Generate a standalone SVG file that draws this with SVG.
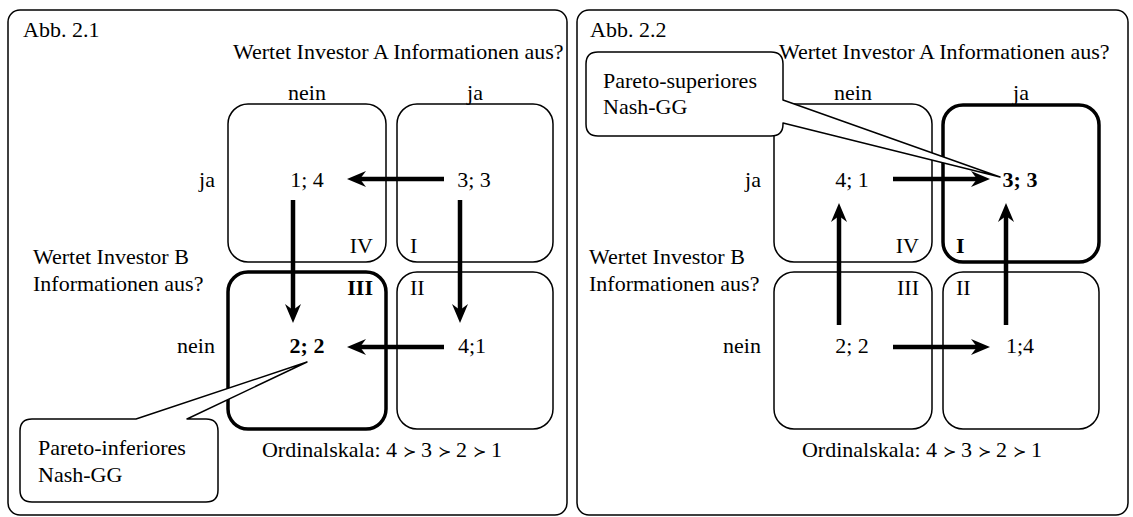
<svg xmlns="http://www.w3.org/2000/svg" width="1133" height="517" viewBox="0 0 1133 517" font-family="'Liberation Serif', 'DejaVu Serif', serif" font-size="22">
<defs>
<style>
text{font-family:'Liberation Serif','DejaVu Serif',serif;font-size:22px;fill:#000}
.m{text-anchor:middle}.e{text-anchor:end}.b{font-weight:bold}
.frame{fill:#fff;stroke:#000;stroke-width:1.5}
.box{fill:none;stroke:#000;stroke-width:1.5}
.thick{fill:none;stroke:#000;stroke-width:3.5}
.arr{stroke:#000;stroke-width:4.5;fill:none;marker-end:url(#ah)}
.call{fill:#fff;stroke:#000;stroke-width:1.5;stroke-linejoin:round}
.sym{font-family:'DejaVu Serif',serif;font-size:16px}
</style>
<marker id="ah" markerUnits="userSpaceOnUse" markerWidth="30" markerHeight="20" viewBox="-20 -10 30 20" refX="-12" refY="0" orient="auto">
<path d="M0,0 L-19,-8 L-13,0 L-19,8 Z" fill="#000"/>
</marker>
</defs>
<rect width="1133" height="517" fill="#fff"/>

<g id="panel1">
<rect class="frame" x="8" y="10" width="559" height="505" rx="12"/>
<text x="23" y="37">Abb. 2.1</text>
<text x="233" y="59">Wertet Investor A Informationen aus?</text>
<text class="m" x="307" y="100">nein</text>
<text class="m" x="475" y="100">ja</text>
<text class="e" x="215" y="187">ja</text>
<text class="e" x="215" y="353">nein</text>
<text x="33" y="264">Wertet Investor B</text>
<text x="33" y="291">Informationen aus?</text>
<text class="m" x="382" y="457">Ordinalskala: 4 <tspan class="sym">≻</tspan> 3 <tspan class="sym">≻</tspan> 2 <tspan class="sym">≻</tspan> 1</text>
</g>
<g id="p1-IV"><rect class="box" x="228" y="104" width="158" height="158" rx="20"/><text class="m" x="307" y="187">1; 4</text><text class="e" x="373" y="253">IV</text></g>
<g id="p1-I"><rect class="box" x="397" y="104" width="156" height="158" rx="20"/><text class="m" x="474" y="187">3; 3</text><text x="410" y="253">I</text></g>
<g id="p1-III"><rect class="thick" x="228" y="272" width="158" height="157" rx="20"/><text class="m b" x="307" y="353">2; 2</text><text class="e b" x="373" y="295">III</text></g>
<g id="p1-II"><rect class="box" x="397" y="272" width="156" height="157" rx="20"/><text class="m" x="472" y="353">4;1</text><text x="410" y="295">II</text></g>

<g id="panel2">
<rect class="frame" x="577" y="10" width="551" height="505" rx="12"/>
<text x="590" y="37">Abb. 2.2</text>
<text x="779" y="59">Wertet Investor A Informationen aus?</text>
<text class="m" x="853" y="100">nein</text>
<text class="m" x="1021" y="100">ja</text>
<text class="e" x="761" y="187">ja</text>
<text class="e" x="761" y="353">nein</text>
<text x="589" y="264">Wertet Investor B</text>
<text x="589" y="291">Informationen aus?</text>
<text class="m" x="922" y="457">Ordinalskala: 4 <tspan class="sym">≻</tspan> 3 <tspan class="sym">≻</tspan> 2 <tspan class="sym">≻</tspan> 1</text>
</g>
<g id="p2-IV"><rect class="box" x="774" y="104" width="158" height="158" rx="20"/><text class="m" x="852" y="187">4; 1</text><text class="e" x="919" y="253">IV</text></g>
<g id="p2-I"><rect class="thick" x="943" y="105" width="156" height="157" rx="20"/><text class="m b" x="1020" y="187">3; 3</text><text class="b" x="956" y="253">I</text></g>
<g id="p2-III"><rect class="box" x="774" y="272" width="158" height="157" rx="20"/><text class="m" x="852" y="353">2; 2</text><text class="e" x="919" y="295">III</text></g>
<g id="p2-II"><rect class="box" x="943" y="272" width="156" height="157" rx="20"/><text class="m" x="1020" y="353">1;4</text><text x="956" y="295">II</text></g>

<g id="connectors">
<line class="arr" x1="444" y1="179" x2="359" y2="179"/>
<line class="arr" x1="444" y1="347" x2="359" y2="347"/>
<line class="arr" x1="293" y1="200" x2="293" y2="311"/>
<line class="arr" x1="460" y1="200" x2="460" y2="311"/>
<line class="arr" x1="893" y1="179" x2="978" y2="179"/>
<line class="arr" x1="893" y1="347" x2="978" y2="347"/>
<line class="arr" x1="839" y1="325" x2="839" y2="215"/>
<line class="arr" x1="1006" y1="325" x2="1006" y2="215"/>
</g>

<g id="callout1">
<path class="call" d="M32,419 L136,419 L307,362 L187,419 L206,419 Q218,419 218,431 L218,490 Q218,502 206,502 L32,502 Q20,502 20,490 L20,431 Q20,419 32,419 Z"/>
<text x="38" y="455">Pareto-inferiores</text>
<text x="38" y="482">Nash-GG</text>
</g>
<g id="callout2">
<path class="call" d="M598,52 L771,52 Q783,52 783,64 L783,100 L1000,177 L783,123 L783,124 Q783,136 771,136 L598,136 Q586,136 586,124 L586,64 Q586,52 598,52 Z"/>
<text x="603" y="88">Pareto-superiores</text>
<text x="603" y="114">Nash-GG</text>
</g>
</svg>
